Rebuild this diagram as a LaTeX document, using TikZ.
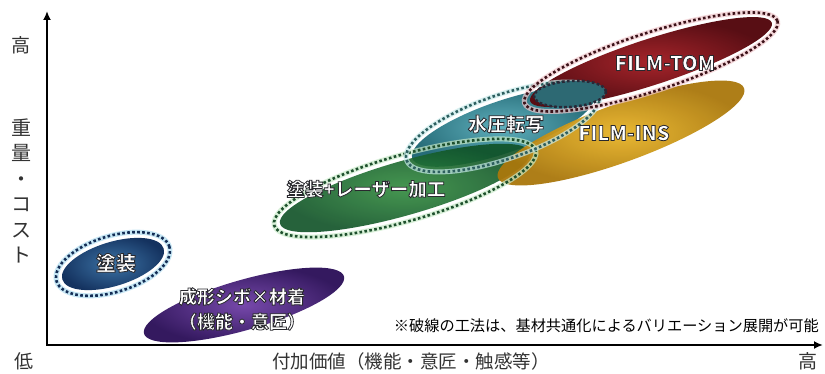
\documentclass[tikz,border=0pt]{standalone}
\usepackage{fontspec}
\newfontfamily\jp{Noto Sans CJK JP}
\usetikzlibrary{arrows.meta}
\definecolor{axisgray}{HTML}{333333}
\definecolor{blueIn}{RGB}{60,115,165}
\definecolor{blueOut}{RGB}{20,50,95}
\definecolor{blueDash}{RGB}{20,45,85}
\definecolor{blueGlow}{RGB}{175,220,240}
\definecolor{purpIn}{RGB}{118,72,170}
\definecolor{purpOut}{RGB}{52,25,95}
\definecolor{tealIn}{RGB}{95,175,188}
\definecolor{tealOut}{RGB}{38,108,120}
\definecolor{tealDash}{RGB}{45,95,95}
\definecolor{tealGlow}{RGB}{200,235,235}
\definecolor{greenIn}{RGB}{50,140,62}
\definecolor{greenOut}{RGB}{15,82,38}
\definecolor{greenDash}{RGB}{30,80,45}
\definecolor{greenGlow}{RGB}{200,235,200}
\definecolor{yelIn}{RGB}{232,180,40}
\definecolor{yelOut}{RGB}{170,120,12}
\definecolor{redIn}{RGB}{165,36,42}
\definecolor{redOut}{RGB}{88,14,20}
\definecolor{redDash}{RGB}{60,18,25}
\definecolor{redGlow}{RGB}{240,200,205}
\definecolor{smallFill}{RGB}{45,105,115}
\definecolor{smallDash}{RGB}{40,40,55}
% white text with a dark outline (PDF text render mode 2 = fill + stroke)
\newcommand\glow[1]{\special{pdf:literal direct q 2 Tr 0.8 w 0.16 0.16 0.18 RG}#1\special{pdf:literal direct 0 Tr Q}}
\tikzset{
  lbl/.style={text=white, font=\jp\bfseries\fontsize{18}{20}\selectfont, inner sep=0pt},
  filmlbl/.style={text=white, font=\jp\bfseries\fontsize{20}{22}\selectfont, inner sep=0pt},
  axlbl/.style={text=axisgray, font=\jp\fontsize{19}{21}\selectfont, inner sep=0pt},
  dashglow/.style={line width=5pt, draw=#1, opacity=0.7},
  dashline/.style={line width=2.6pt, draw=#1, dash pattern=on 2.6pt off 2.4pt},
  axisline/.style={line width=1.8pt, -{Latex[length=9pt,width=8pt]}},
}
\begin{document}
\begin{tikzpicture}[x=1pt,y=1pt]
\useasboundingbox (0,0) rectangle (825,-374);
\fill[white] (0,0) rectangle (825,-374);

% ---- blue: 塗装
\begin{scope}[shift={(113,-264)}, rotate=17]
  \draw[dashglow=blueGlow] (0,0) ellipse [x radius=59, y radius=28];
  \draw[dashline=blueDash] (0,0) ellipse [x radius=59, y radius=28];
  \shade[inner color=blueIn, outer color=blueOut] (0,0) ellipse [x radius=53, y radius=22];
\end{scope}

% ---- purple
\begin{scope}[shift={(244,-305)}, rotate=16]
  \shade[inner color=purpIn, outer color=purpOut] (0,0) ellipse [x radius=104, y radius=25];
\end{scope}

% ---- teal (水圧転写)
\begin{scope}[shift={(503,-127)}, rotate=19]
  \shade[inner color=tealIn, outer color=tealOut] (0,0) ellipse [x radius=96, y radius=26];
\end{scope}

% ---- green (塗装+レーザー加工)
\begin{scope}[shift={(405,-188)}, rotate=16]
  \shade[opacity=0.9, inner color=greenIn, outer color=greenOut] (0,0) ellipse [x radius=130, y radius=27];
\end{scope}

% ---- yellow (FILM-INS)
\begin{scope}[shift={(621,-133)}, rotate=20]
  \shade[opacity=0.95, inner color=yelIn, outer color=yelOut] (0,0) ellipse [x radius=131, y radius=29];
\end{scope}

% ---- red (FILM-TOM)
\begin{scope}[shift={(651,-62)}, rotate=18]
  \shade[inner color=redIn, outer color=redOut] (0,0) ellipse [x radius=127, y radius=23];
\end{scope}

% ---- dashed outlines of green, teal, red
\begin{scope}[shift={(405,-188)}, rotate=16]
  \draw[dashglow=greenGlow] (0,0) ellipse [x radius=136, y radius=33];
  \draw[dashline=greenDash] (0,0) ellipse [x radius=136, y radius=33];
\end{scope}
\begin{scope}[shift={(503,-127)}, rotate=19]
  \draw[dashglow=tealGlow] (0,0) ellipse [x radius=102, y radius=32];
  \draw[dashline=tealDash] (0,0) ellipse [x radius=102, y radius=32];
\end{scope}
\begin{scope}[shift={(651,-62)}, rotate=18]
  \draw[dashglow=redGlow] (0,0) ellipse [x radius=133, y radius=29];
  \draw[dashline=redDash] (0,0) ellipse [x radius=133, y radius=29];
\end{scope}

% ---- small overlap ellipse
\begin{scope}[shift={(570,-94)}, rotate=4]
  \fill[smallFill] (0,0) ellipse [x radius=36, y radius=13];
  \draw[dashline=smallDash] (0,0) ellipse [x radius=36, y radius=13];
\end{scope}

% ---- labels
\node[lbl, font=\jp\bfseries\fontsize{20}{22}\selectfont] (tosou) at (116,-263) {\glow{塗装}};
\node[lbl, align=center, font=\jp\bfseries\fontsize{18}{25}\selectfont] (seikei) at (242,-309) {\glow{成形シボ×材着}\\\glow{（機能・意匠）}};
\node[lbl, font=\jp\bfseries\fontsize{18.5}{20}\selectfont] (laser) at (366,-189) {\glow{塗装+レーザー加工}};
\node[lbl, font=\jp\bfseries\fontsize{19}{20}\selectfont] (suiatsu) at (506,-124) {\glow{水圧転写}};
\node[filmlbl] (ins) at (624,-133) {\glow{FILM-INS}};
\node[filmlbl] (tom) at (665,-63) {\glow{FILM-TOM}};

% ---- axes
\coordinate (origin) at (47,-345);
\coordinate (ytip) at (47,-11);
\coordinate (xtip) at (823,-345);
\draw[axisline] (origin) -- (ytip);
\draw[axisline] ([xshift=-0.9pt]origin) -- (xtip);

\node[axlbl] (yhigh) at (21,-45) {高};
\node[axlbl, align=center, font=\jp\fontsize{20}{25.5}\selectfont] (ylabel) at (21,-191) {重\\量\\・\\コ\\ス\\ト};
\node[axlbl] (ylow) at (24,-361) {低};
\node[axlbl, font=\jp\fontsize{18.5}{20}\selectfont] (xlabel) at (411,-361) {付加価値（機能・意匠・触感等）};
\node[axlbl] (xhigh) at (808,-361) {高};
\node[text=black, font=\jp\fontsize{15.2}{17}\selectfont, inner sep=0pt, anchor=east] (note) at (819,-326) {※破線の工法は、基材共通化によるバリエーション展開が可能};
\end{tikzpicture}
\end{document}
